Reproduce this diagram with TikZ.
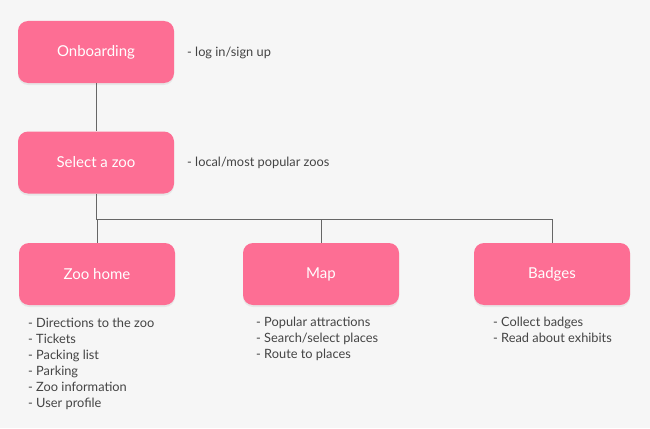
\documentclass[tikz,border=0pt]{standalone}
\usepackage{fontspec}
\setmainfont{Lato}
\usepackage{tikz}
\usepackage{xcolor}
\usetikzlibrary{shadows}

\definecolor{zoopink}{RGB}{253,110,148}
\definecolor{zoobg}{RGB}{246,246,246}
\definecolor{zooline}{RGB}{102,102,102}
\definecolor{zootext}{RGB}{68,68,68}

\tikzset{
  screen/.style={fill=zoopink,rounded corners=10pt,minimum width=156pt,minimum height=62pt,
    text=white,font=\fontsize{15}{18}\selectfont,
    drop shadow={opacity=0.12,shadow xshift=0pt,shadow yshift=-2pt}},
  note/.style={text=zootext,font=\fontsize{12.8}{16}\selectfont,align=left,inner sep=0pt},
  link/.style={zooline,line width=0.8pt}
}

\begin{document}
\begin{tikzpicture}[x=1pt,y=-1pt]
      \fill [zoobg] (0,0) rectangle (650,428);
      \useasboundingbox (0,0) rectangle (650,428);
      % screens
      \node [screen] (onboard) at (96,52) {Onboarding};
      \node [screen] (select) at (96,162.5) {Select a zoo};
      \node [screen] (home) at (97,274) {Zoo home};
      \node [screen] (map) at (321,274) {Map};
      \node [screen] (badges) at (552,274) {Badges};
      % connectors
      \coordinate (split) at (96,219);
      \draw [link] (onboard) -- (select);
      \draw [link] (select.south) -- (split) -| (home.north);
      \draw [link] (split) -| (map.north);
      \draw [link] (split) -| (badges.north);
      % notes
      \node [note,anchor=west] (onboardnote) at (187,52.5) {- log in/sign up};
      \node [note,anchor=west] (selectnote) at (187,162.5) {- local/most popular zoos};
      \node [note,anchor=north west] (homenote) at (28,318) {- Directions to the zoo\\- Tickets\\- Packing list\\- Parking\\- Zoo information\\- User profile};
      \node [note,anchor=north west] (mapnote) at (256,317) {- Popular attractions\\- Search/select places\\- Route to places};
      \node [note,anchor=north west] (badgesnote) at (493,317) {- Collect badges\\- Read about exhibits};
    \end{tikzpicture}
\end{document}
